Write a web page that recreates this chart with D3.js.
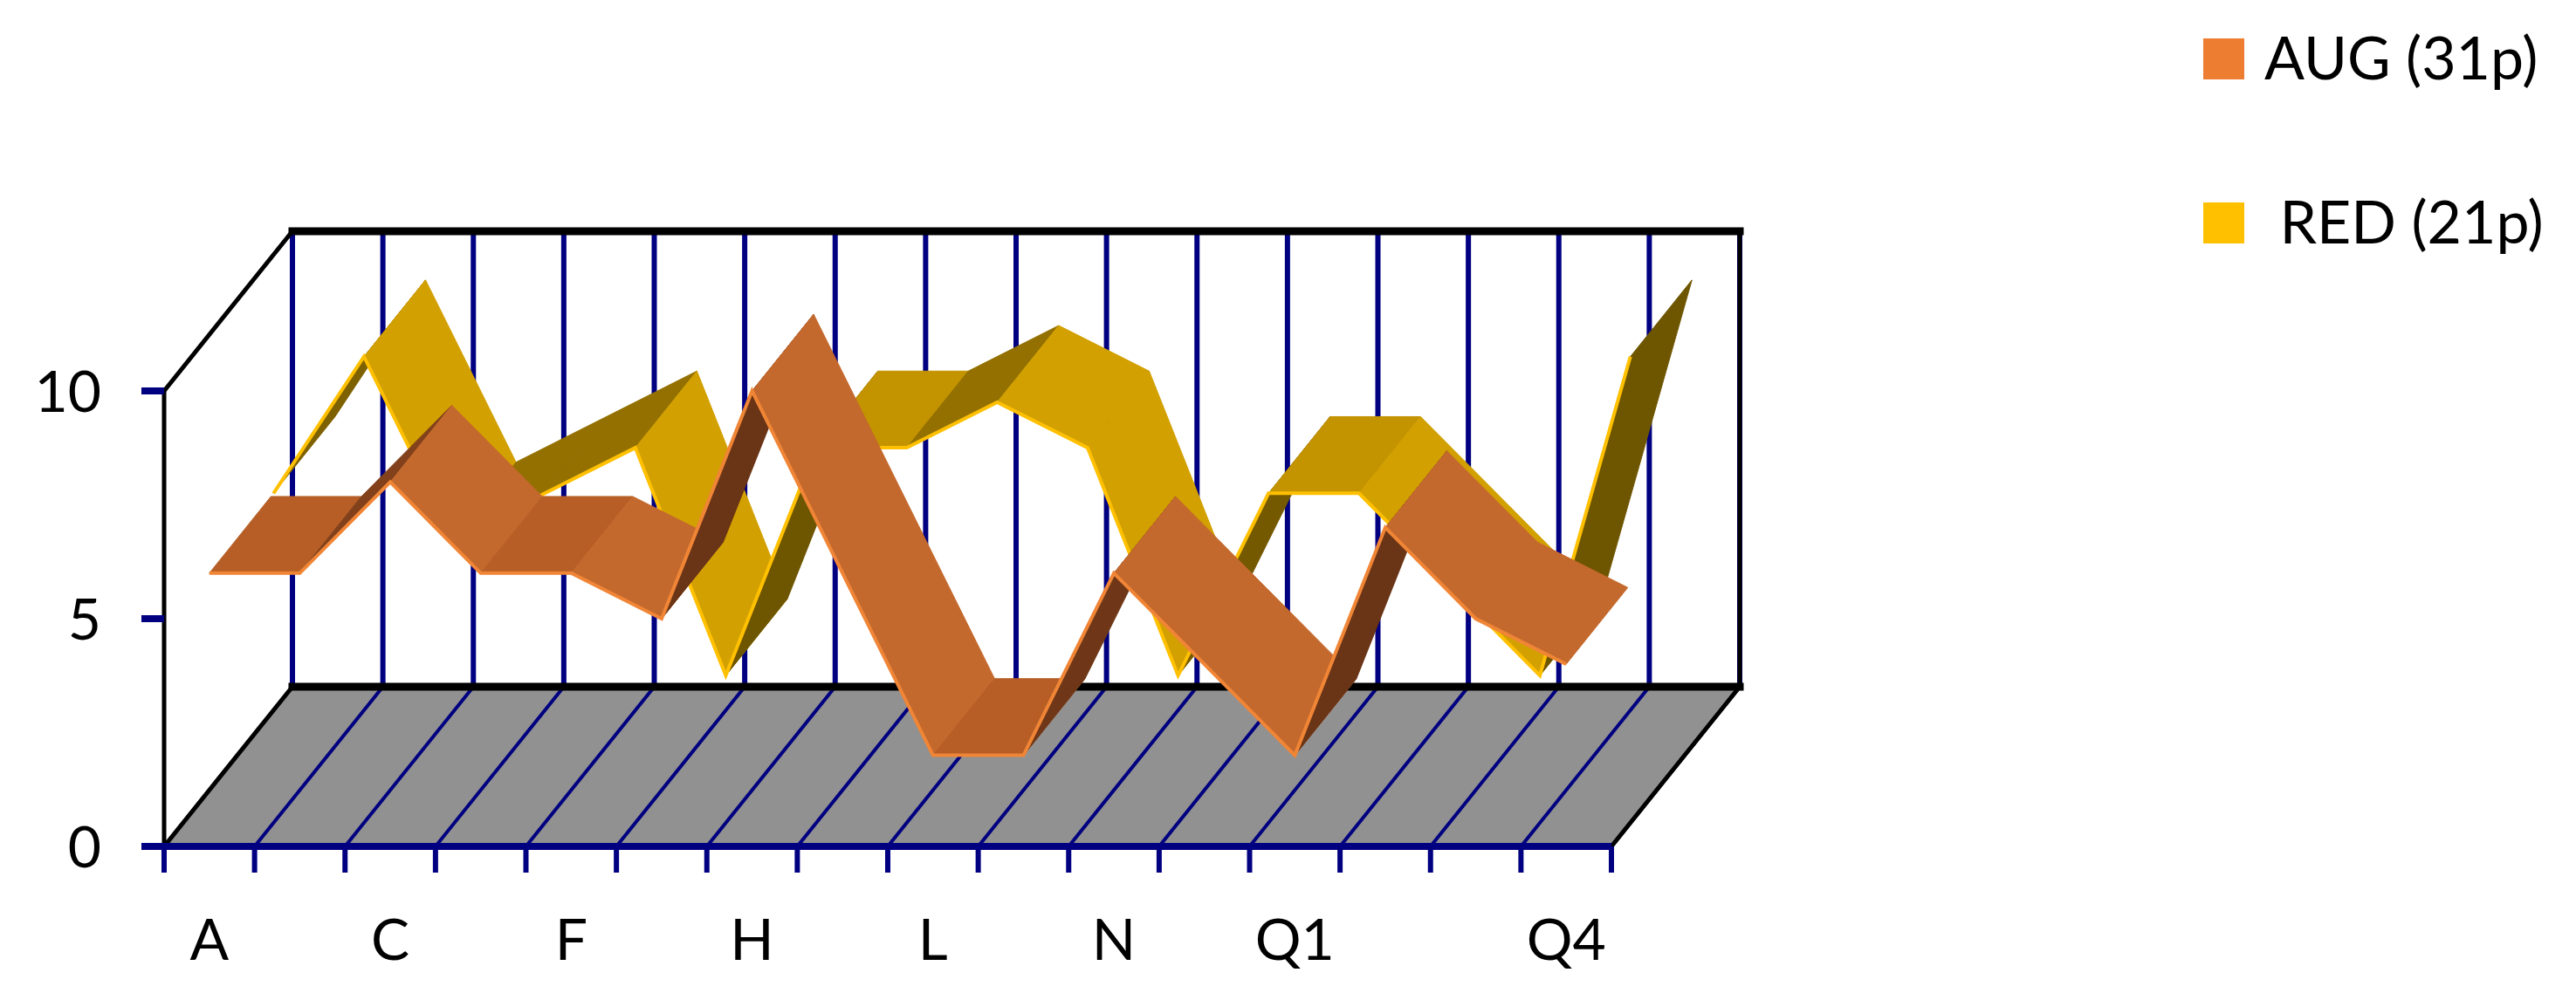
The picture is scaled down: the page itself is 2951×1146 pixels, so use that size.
<!DOCTYPE html>
<html>
<head>
<meta charset="utf-8">
<script src="https://cdn.jsdelivr.net/npm/d3@7"></script>
<style>
  body { margin: 0; background: #fff; }
  text { font-family: Lato, "Open Sans", sans-serif; fill: #000; }
</style>
</head>
<body>
<svg id="chart" width="2951" height="1146"></svg>
<script>
// data
var categories = ["A","B","C","D","F","G","H","I","L","M","N","O","Q1","Q2","Q3","Q4"];
var shownLabels = ["A","C","F","H","L","N","Q1","Q4"];
var augValues = [6,6,8,6,6,5,10,6,2,2,6,4,2,7,5,4];
var redValues = [6,9,5,6,7,2,7,7,8,7,2,6,6,4,2,9];
var yTicks = [0,5,10];
var seriesNames = ["AUG (31p)", " RED (21p)"];

var svg = d3.select("#chart");

var x = d3.scaleLinear().domain([0, categories.length]).range([188, 1846]);
var y = d3.scaleLinear().domain([0, 10]).range([970, 448]);
var depthX = 147, depthY = -183;

function proj(c, v, t) {
  return [x(c) + depthX * t, y(v) + depthY * t];
}
function poly(pts) { return "M" + pts.map(function(p){ return p.join(","); }).join("L") + "Z"; }

var navy = "#000080";
var n = categories.length;

// back wall
svg.append("path")
  .attr("d", poly([proj(0,0,1), proj(n,0,1), proj(n,10,1), proj(0,10,1)]))
  .attr("fill", "#fff");

// back wall vertical gridlines
d3.range(n + 1).forEach(function(i) {
  var a = proj(i, 0, 1), b = proj(i, 10, 1);
  svg.append("line").attr("x1", a[0]).attr("y1", a[1]).attr("x2", b[0]).attr("y2", b[1])
    .attr("stroke", navy).attr("stroke-width", 6);
});

// floor
svg.append("path")
  .attr("d", poly([proj(0,0,0), proj(n,0,0), proj(n,0,1), proj(0,0,1)]))
  .attr("fill", "#919191");
d3.range(1, n + 1).forEach(function(i) {
  var a = proj(i, 0, 0), b = proj(i, 0, 1);
  svg.append("line").attr("x1", a[0]).attr("y1", a[1]).attr("x2", b[0]).attr("y2", b[1])
    .attr("stroke", navy).attr("stroke-width", 4);
});

// wall borders
function seg(p, q, col, w) {
  svg.append("line").attr("x1", p[0]).attr("y1", p[1]).attr("x2", q[0]).attr("y2", q[1])
    .attr("stroke", col).attr("stroke-width", w).attr("stroke-linecap", "square");
}
seg(proj(0,10,1), proj(n,10,1), "#000", 9);
seg(proj(0,0,1), proj(n,0,1), "#000", 9);
seg(proj(n,0,1), proj(n,10,1), "#000", 5);
seg(proj(0,0,0), proj(0,0,1), "#000", 5);
seg(proj(n,0,0), proj(n,0,1), "#000", 5);
seg(proj(0,10,0), proj(0,10,1), "#000", 5);
seg(proj(0,0,0), proj(0,10,0), "#000", 5);

// ribbons
function drawRibbon(values, t0, t1, cols) {
  for (var i = 0; i < values.length - 1; i++) {
    var c0 = i + 0.5, c1 = i + 1.5, v0 = values[i], v1 = values[i + 1];
    var dv = v1 - v0, fill;
    if (dv === 0) fill = cols.flat;
    else if (dv < 0) fill = cols.fall;
    else fill = d3.interpolateRgb(cols.flat, cols.dark)(Math.min(1, 0.45 + dv * 0.12));
    svg.append("path")
      .attr("d", poly([proj(c0,v0,t0), proj(c1,v1,t0), proj(c1,v1,t1), proj(c0,v0,t1)]))
      .attr("fill", fill).attr("stroke", fill).attr("stroke-width", 1);
  }
  var line = d3.line()
    .x(function(d, i) { return proj(i + 0.5, d, t0)[0]; })
    .y(function(d, i) { return proj(i + 0.5, d, t0)[1]; });
  svg.append("path").datum(values).attr("d", line)
    .attr("fill", "none").attr("stroke", cols.edge).attr("stroke-width", 4);
}
drawRibbon(redValues, 0.5, 0.98, { flat: "#C39300", fall: "#D2A000", dark: "#6E5500", edge: "#FFC000" });
drawRibbon(augValues, 0.0, 0.48, { flat: "#B65E26", fall: "#C4692D", dark: "#6A3416", edge: "#F08536" });

// x axis
svg.append("line").attr("x1", x(0)).attr("y1", y(0)).attr("x2", x(n)).attr("y2", y(0))
  .attr("stroke", navy).attr("stroke-width", 8);
d3.range(n + 1).forEach(function(i) {
  svg.append("line").attr("x1", x(i)).attr("y1", y(0)).attr("x2", x(i)).attr("y2", y(0) + 30)
    .attr("stroke", navy).attr("stroke-width", 6);
});
categories.forEach(function(c, i) {
  if (shownLabels.indexOf(c) < 0) return;
  svg.append("text").attr("x", x(i + 0.5)).attr("y", 1100)
    .attr("text-anchor", "middle").attr("font-size", 66).text(c);
});

// y axis ticks
yTicks.forEach(function(v) {
  svg.append("line").attr("x1", 162).attr("y1", y(v)).attr("x2", 188).attr("y2", y(v))
    .attr("stroke", navy).attr("stroke-width", 8);
  svg.append("text").attr("x", 116).attr("y", y(v) + 24)
    .attr("text-anchor", "end").attr("font-size", 66).text(v);
});

// legend
var legendColors = ["#ED7D31", "#FFC000"];
seriesNames.forEach(function(s, i) {
  var ly = 44 + i * 188;
  svg.append("rect").attr("x", 2524).attr("y", ly).attr("width", 47).attr("height", 47)
    .attr("fill", legendColors[i]);
  svg.append("text").attr("x", 2594).attr("y", ly + 47).attr("font-size", 68)
    .attr("xml:space", "preserve").style("white-space", "pre").text(s);
});
</script>
</body>
</html>
